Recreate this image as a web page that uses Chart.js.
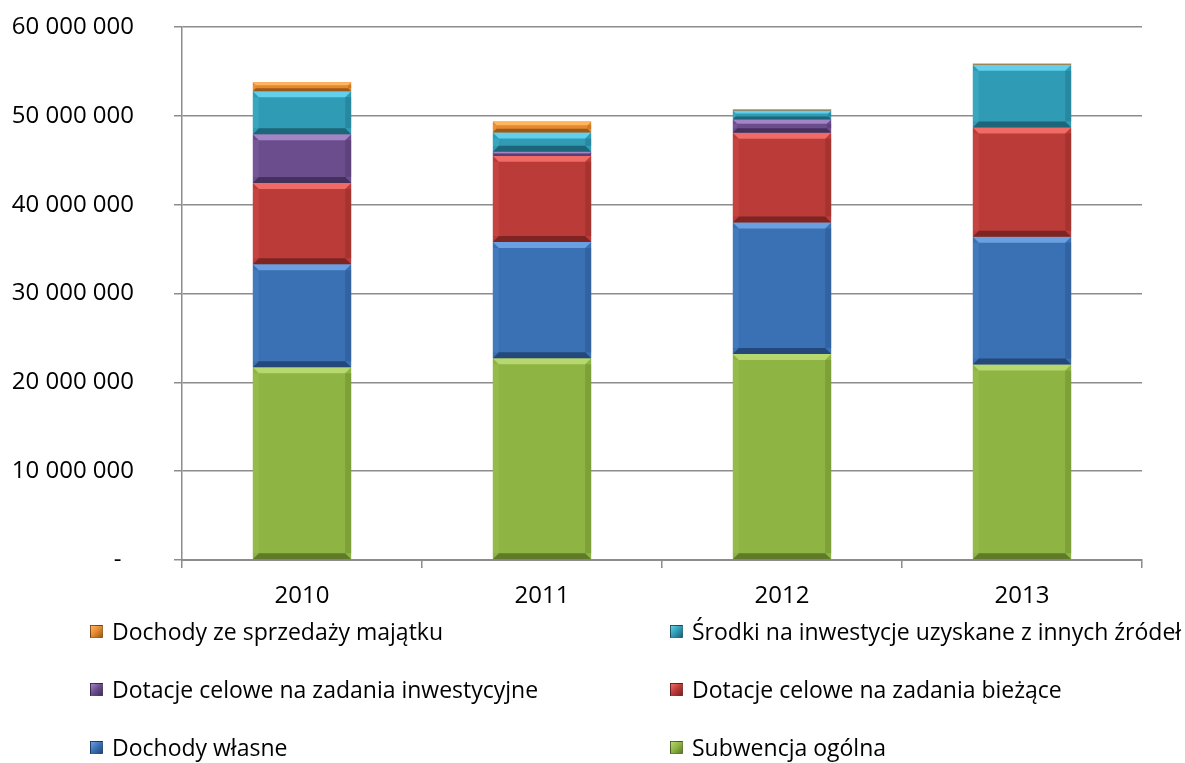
<!DOCTYPE html>
<html>
<head>
<meta charset="utf-8">
<script src="https://cdn.jsdelivr.net/npm/chart.js@4.4.1/dist/chart.umd.min.js"></script>
<style>
  html, body { margin: 0; padding: 0; background: #fff; }
  #wrap { position: relative; width: 1185px; height: 763px; overflow: hidden; }
  #legend { position: absolute; left: 90px; top: 617px; width: 1200px; font-family: 'Open Sans', sans-serif; font-size: 23px; color: #000; }
  .item { position: absolute; white-space: nowrap; display: flex; align-items: center; height: 28px; }
  .box { width: 13px; height: 13px; margin-right: 9px; box-sizing: border-box; border: 1px solid rgba(0,0,0,0.35); }
</style>
</head>
<body>
<div id="wrap">
  <canvas id="myChart" width="1185" height="763"></canvas>
  <div id="legend"></div>
</div>
<script>
const years = ['2010', '2011', '2012', '2013']

// values in PLN
const subwencjaOgolna = [21700000, 22700000, 23200000, 22000000]
const dochodyWlasne = [11600000, 13100000, 14800000, 14400000]
const dotacjeBiezace = [9150000, 9700000, 10100000, 12300000]
const dotacjeInwestycyjne = [5490000, 450000, 1500000, 0]
const srodkiInwestycje = [4840000, 2170000, 1000000, 7050000]
const sprzedazMajatku = [1010000, 1240000, 180000, 150000]

const yTicks = [0, 10000000, 20000000, 30000000, 40000000, 50000000, 60000000]

const series = [
  { label: 'Subwencja ogólna', data: subwencjaOgolna, color: '#8eb443', light: '#b6d86e', dark: '#5f7a29' },
  { label: 'Dochody własne', data: dochodyWlasne, color: '#3a70b4', light: '#6aa0e0', dark: '#24487a' },
  { label: 'Dotacje celowe na zadania bieżące', data: dotacjeBiezace, color: '#bb3b38', light: '#f06a66', dark: '#7e2422' },
  { label: 'Dotacje celowe na zadania inwestycyjne', data: dotacjeInwestycyjne, color: '#6b4c8c', light: '#a285c4', dark: '#45305c' },
  { label: 'Środki na inwestycje uzyskane z innych źródeł', data: srodkiInwestycje, color: '#2f9bb5', light: '#62d0ec', dark: '#1d6578' },
  { label: 'Dochody ze sprzedaży majątku', data: sprzedazMajatku, color: '#e5892f', light: '#ffb45e', dark: '#9a5a1c' }
]

function formatPl (v) {
  if (v === 0) return '-  '
  return String(v).replace(/\B(?=(\d{3})+(?!\d))/g, ' ')
}

// draws a simple bevel on each bar segment
const bevelPlugin = {
  id: 'bevel',
  afterDatasetsDraw (chart) {
    const ctx = chart.ctx
    chart.data.datasets.forEach((ds, i) => {
      const meta = chart.getDatasetMeta(i)
      meta.data.forEach(bar => {
        const left = bar.x - bar.width / 2
        const right = bar.x + bar.width / 2
        const top = Math.min(bar.y, bar.base)
        const bottom = Math.max(bar.y, bar.base)
        const h = bottom - top
        if (h < 1) return
        const b = Math.min(6, h / 3)
        ctx.save()
        ctx.fillStyle = ds.lightColor
        ctx.beginPath()
        ctx.moveTo(left, top)
        ctx.lineTo(right, top)
        ctx.lineTo(right - b, top + b)
        ctx.lineTo(left + b, top + b)
        ctx.closePath()
        ctx.fill()
        ctx.fillStyle = ds.darkColor
        ctx.beginPath()
        ctx.moveTo(left, bottom)
        ctx.lineTo(right, bottom)
        ctx.lineTo(right - b, bottom - b)
        ctx.lineTo(left + b, bottom - b)
        ctx.closePath()
        ctx.fill()
        ctx.globalAlpha = 0.35
        ctx.fillStyle = ds.darkColor
        ctx.fillRect(right - b, top + b, b, h - 2 * b)
        ctx.globalAlpha = 0.2
        ctx.fillStyle = ds.lightColor
        ctx.fillRect(left, top + b, b, h - 2 * b)
        ctx.restore()
      })
    })
  }
}

const datasets = series.map(s => ({
  label: s.label,
  data: s.data,
  backgroundColor: s.color,
  lightColor: s.light,
  darkColor: s.dark,
  borderWidth: 0,
  categoryPercentage: 1,
  barPercentage: 0.41
}))

const config = {
  type: 'bar',
  data: { labels: years, datasets: datasets },
  options: {
    responsive: false,
    animation: false,
    layout: { padding: { top: 27, right: 43, left: 0, bottom: 0 } },
    scales: {
      x: {
        stacked: true,
        border: { color: '#8c8c8c', width: 2 },
        grid: { offset: true, drawOnChartArea: false, drawTicks: true, tickLength: 8, color: '#8c8c8c', lineWidth: 1.5 },
        ticks: { color: '#000', font: { family: 'Open Sans', size: 24 }, padding: 14, maxRotation: 0 },
        afterFit (scale) {
          scale.height = 203
          scale.paddingLeft = 0
          scale.paddingRight = 0
        }
      },
      y: {
        stacked: true,
        min: 0,
        max: 60000000,
        afterBuildTicks (scale) { scale.ticks = yTicks.map(v => ({ value: v })) },
        border: { color: '#8c8c8c', width: 1.5 },
        grid: { color: '#8c8c8c', lineWidth: 1.5, tickLength: 8 },
        ticks: { color: '#000', font: { family: 'Open Sans', size: 24 }, padding: 40, callback: v => formatPl(v) },
        afterFit (scale) {
          scale.width = 182
          scale.paddingTop = 0
          scale.paddingBottom = 0
        }
      }
    },
    plugins: {
      legend: { display: false },
      tooltip: { enabled: false }
    }
  },
  plugins: [bevelPlugin]
}

const chart = new Chart(document.getElementById('myChart').getContext('2d'), config)

// legend in two columns, reversed order like the original
const legendDiv = document.getElementById('legend')
const order = series.slice().reverse()
order.forEach((s, i) => {
  const item = document.createElement('div')
  item.className = 'item'
  item.style.left = (i % 2 === 0 ? 0 : 580) + 'px'
  item.style.top = (Math.floor(i / 2) * 58) + 'px'
  const box = document.createElement('span')
  box.className = 'box'
  box.style.background = 'linear-gradient(135deg, ' + s.light + ' 0%, ' + s.color + ' 50%, ' + s.dark + ' 100%)'
  const text = document.createElement('span')
  text.textContent = s.label
  item.appendChild(box)
  item.appendChild(text)
  legendDiv.appendChild(item)
})
</script>
</body>
</html>
